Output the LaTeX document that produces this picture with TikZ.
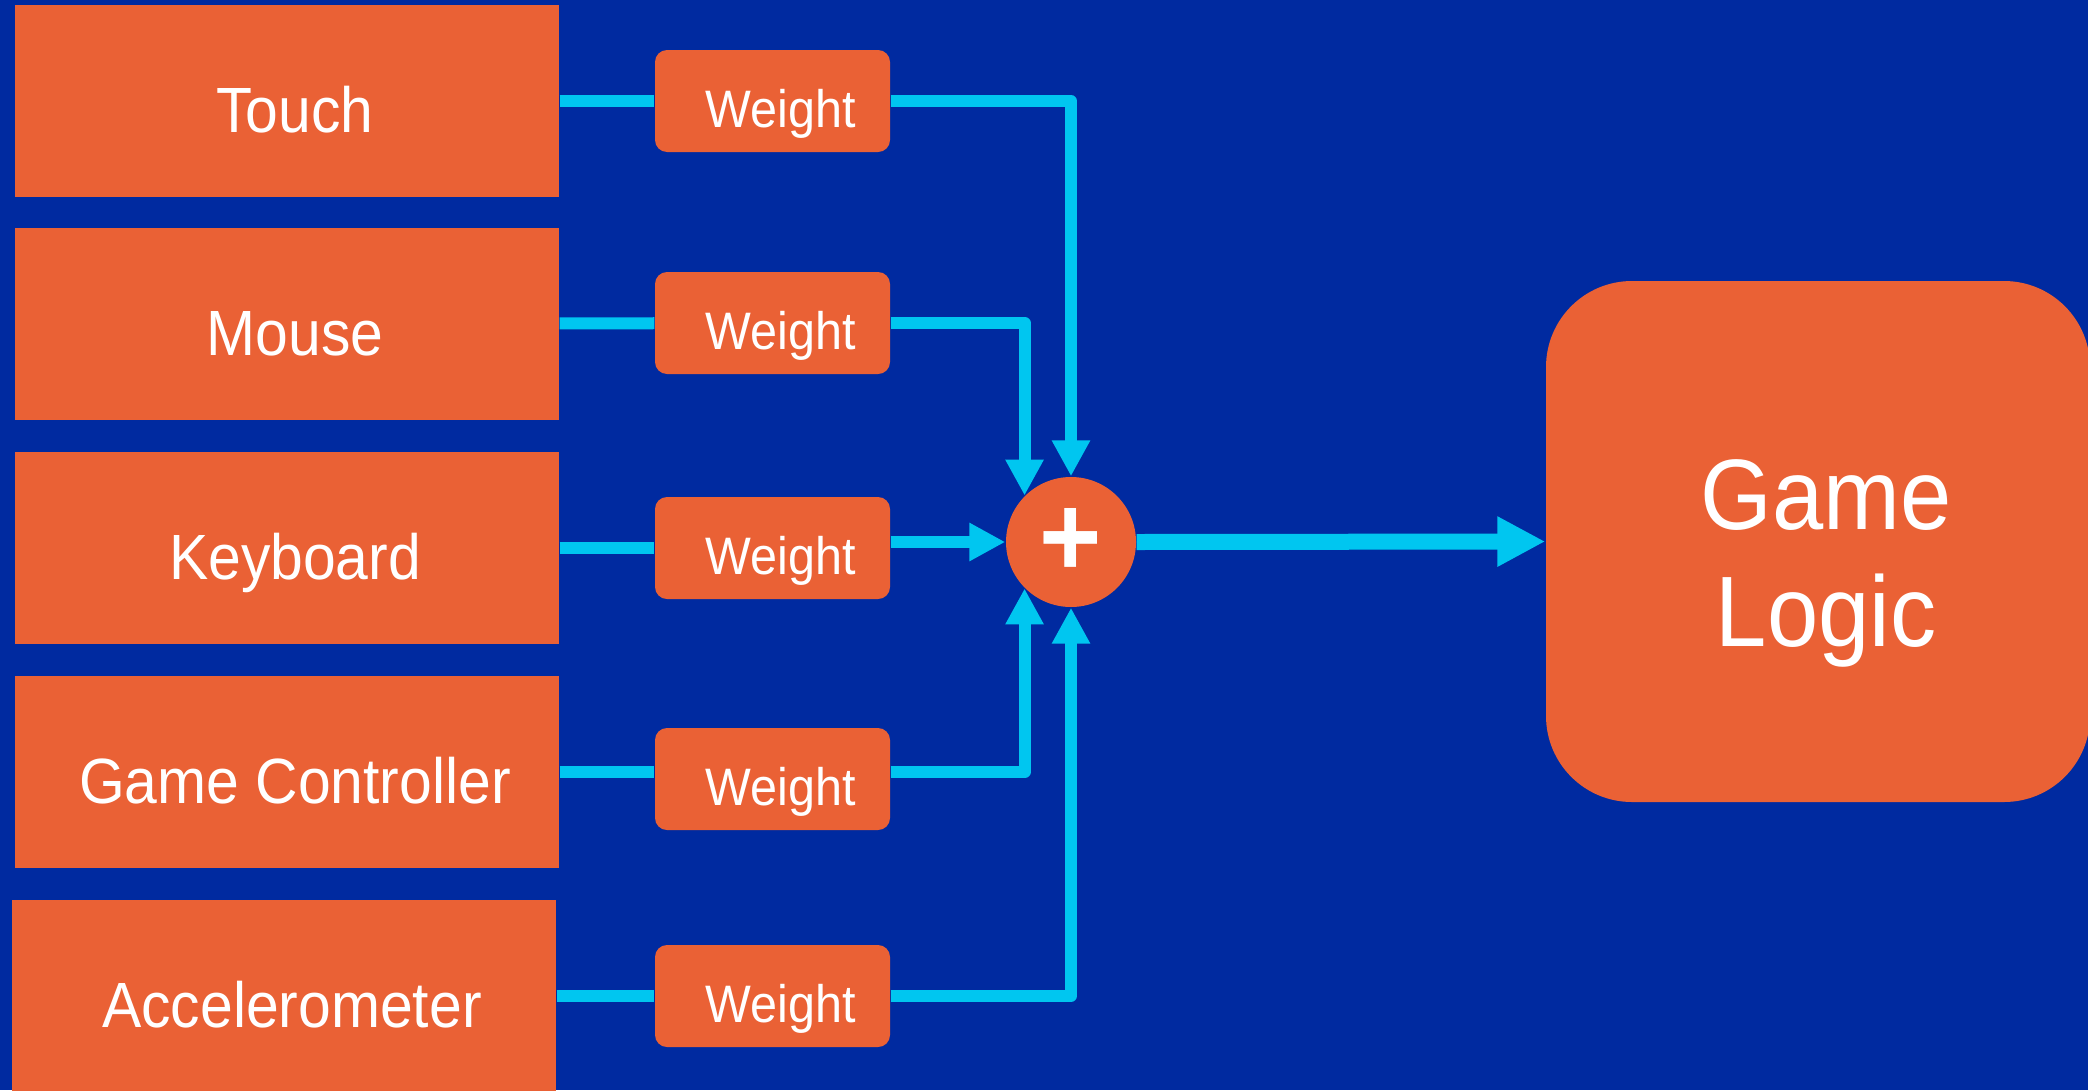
\documentclass[tikz,border=0pt]{standalone}
\usepackage{fontspec}
\setmainfont{Liberation Sans}[FakeStretch=0.92]
\usetikzlibrary{positioning,arrows.meta,calc}
\definecolor{slideblue}{RGB}{0,42,160}
\definecolor{boxorange}{RGB}{234,97,53}
\definecolor{wirecyan}{RGB}{0,198,240}

\begin{document}
\begin{tikzpicture}[
    inputbox/.style={rectangle, fill=boxorange, minimum width=5.44cm, minimum height=1.92cm, inner sep=0pt, text=white, font=\fontsize{18.2}{21}\selectfont, text height=18pt, text depth=0pt, execute at begin node=\hspace*{0.16cm}},
    weightbox/.style={rectangle, rounded corners=0.12cm, fill=boxorange, minimum width=2.35cm, minimum height=1.02cm, inner sep=0pt, text=white, font=\fontsize{15}{18}\selectfont, text height=15.3pt, text depth=0pt, execute at begin node=\hspace*{0.16cm}},
    sumnode/.style={circle, fill=boxorange, minimum size=1.3cm, inner sep=0pt, text=white, font=\fontsize{33}{33}\selectfont\bfseries},
    logicbox/.style={rectangle, rounded corners=0.86cm, fill=boxorange, minimum width=5.44cm, minimum height=5.21cm, inner sep=0pt, align=center, text=white, font=\fontsize{28.5}{33.3}\selectfont},
    wire/.style={draw=wirecyan, line width=0.12cm, line join=round},
    feed/.style={wire, -{Triangle[length=0.36cm, width=0.36cm]}},
    result/.style={draw=wirecyan, line width=0.16cm, -{Triangle[length=0.48cm, width=0.47cm]}}
]

% Background
\fill[slideblue] (0,0) rectangle (20.88,10.90);
\useasboundingbox (0,0) rectangle (20.88,10.90);

% Input devices
\node[inputbox] (touch) at (2.87,9.89) {Touch};
\node[inputbox] (mouse) at (2.87,7.66) {Mouse};
\node[inputbox] (keyboard) at (2.87,5.42) {Keyboard};
\node[inputbox] (controller) at (2.87,3.18) {Game Controller};
\node[inputbox] (accel) at (2.84,0.94) {Accelerometer};

% Weights
\node[weightbox] (wtouch) at (7.725,9.89) {Weight};
\node[weightbox] (wmouse) at (7.725,7.67) {Weight};
\node[weightbox] (wkeyboard) at (7.725,5.42) {Weight};
\node[weightbox] (wcontroller) at (7.725,3.11) {Weight};
\node[weightbox] (waccel) at (7.725,0.94) {Weight};

% Sum and game logic
\node[sumnode] (plus) at (10.71,5.48) {+};
\node[logicbox] (logic) at (18.18,5.485) {\rule{0pt}{1.13em}\hspace*{0.16cm}Game\\\hspace*{0.16cm}Logic};

% Inputs to weights
\draw[wire] (touch) -- (wtouch);
\draw[wire] (mouse) -- (wmouse);
\draw[wire] (keyboard) -- (wkeyboard);
\draw[wire] (controller.east) -- (controller.east -| wcontroller.west);
\draw[wire] (accel) -- (waccel);

% Weights to sum
\draw[feed] (wtouch.east) -| (plus.north);
\draw[feed] (wmouse.east) -| (plus.north west);
\draw[feed] (wkeyboard.east |- plus.west) -- (plus.west);
\draw[feed] (wcontroller.east |- controller.east) -| (plus.south west);
\draw[feed] (waccel.east) -| (plus.south);

% Sum to game logic
\draw[result] (plus.east) -- (logic.west);

\end{tikzpicture}
\end{document}
